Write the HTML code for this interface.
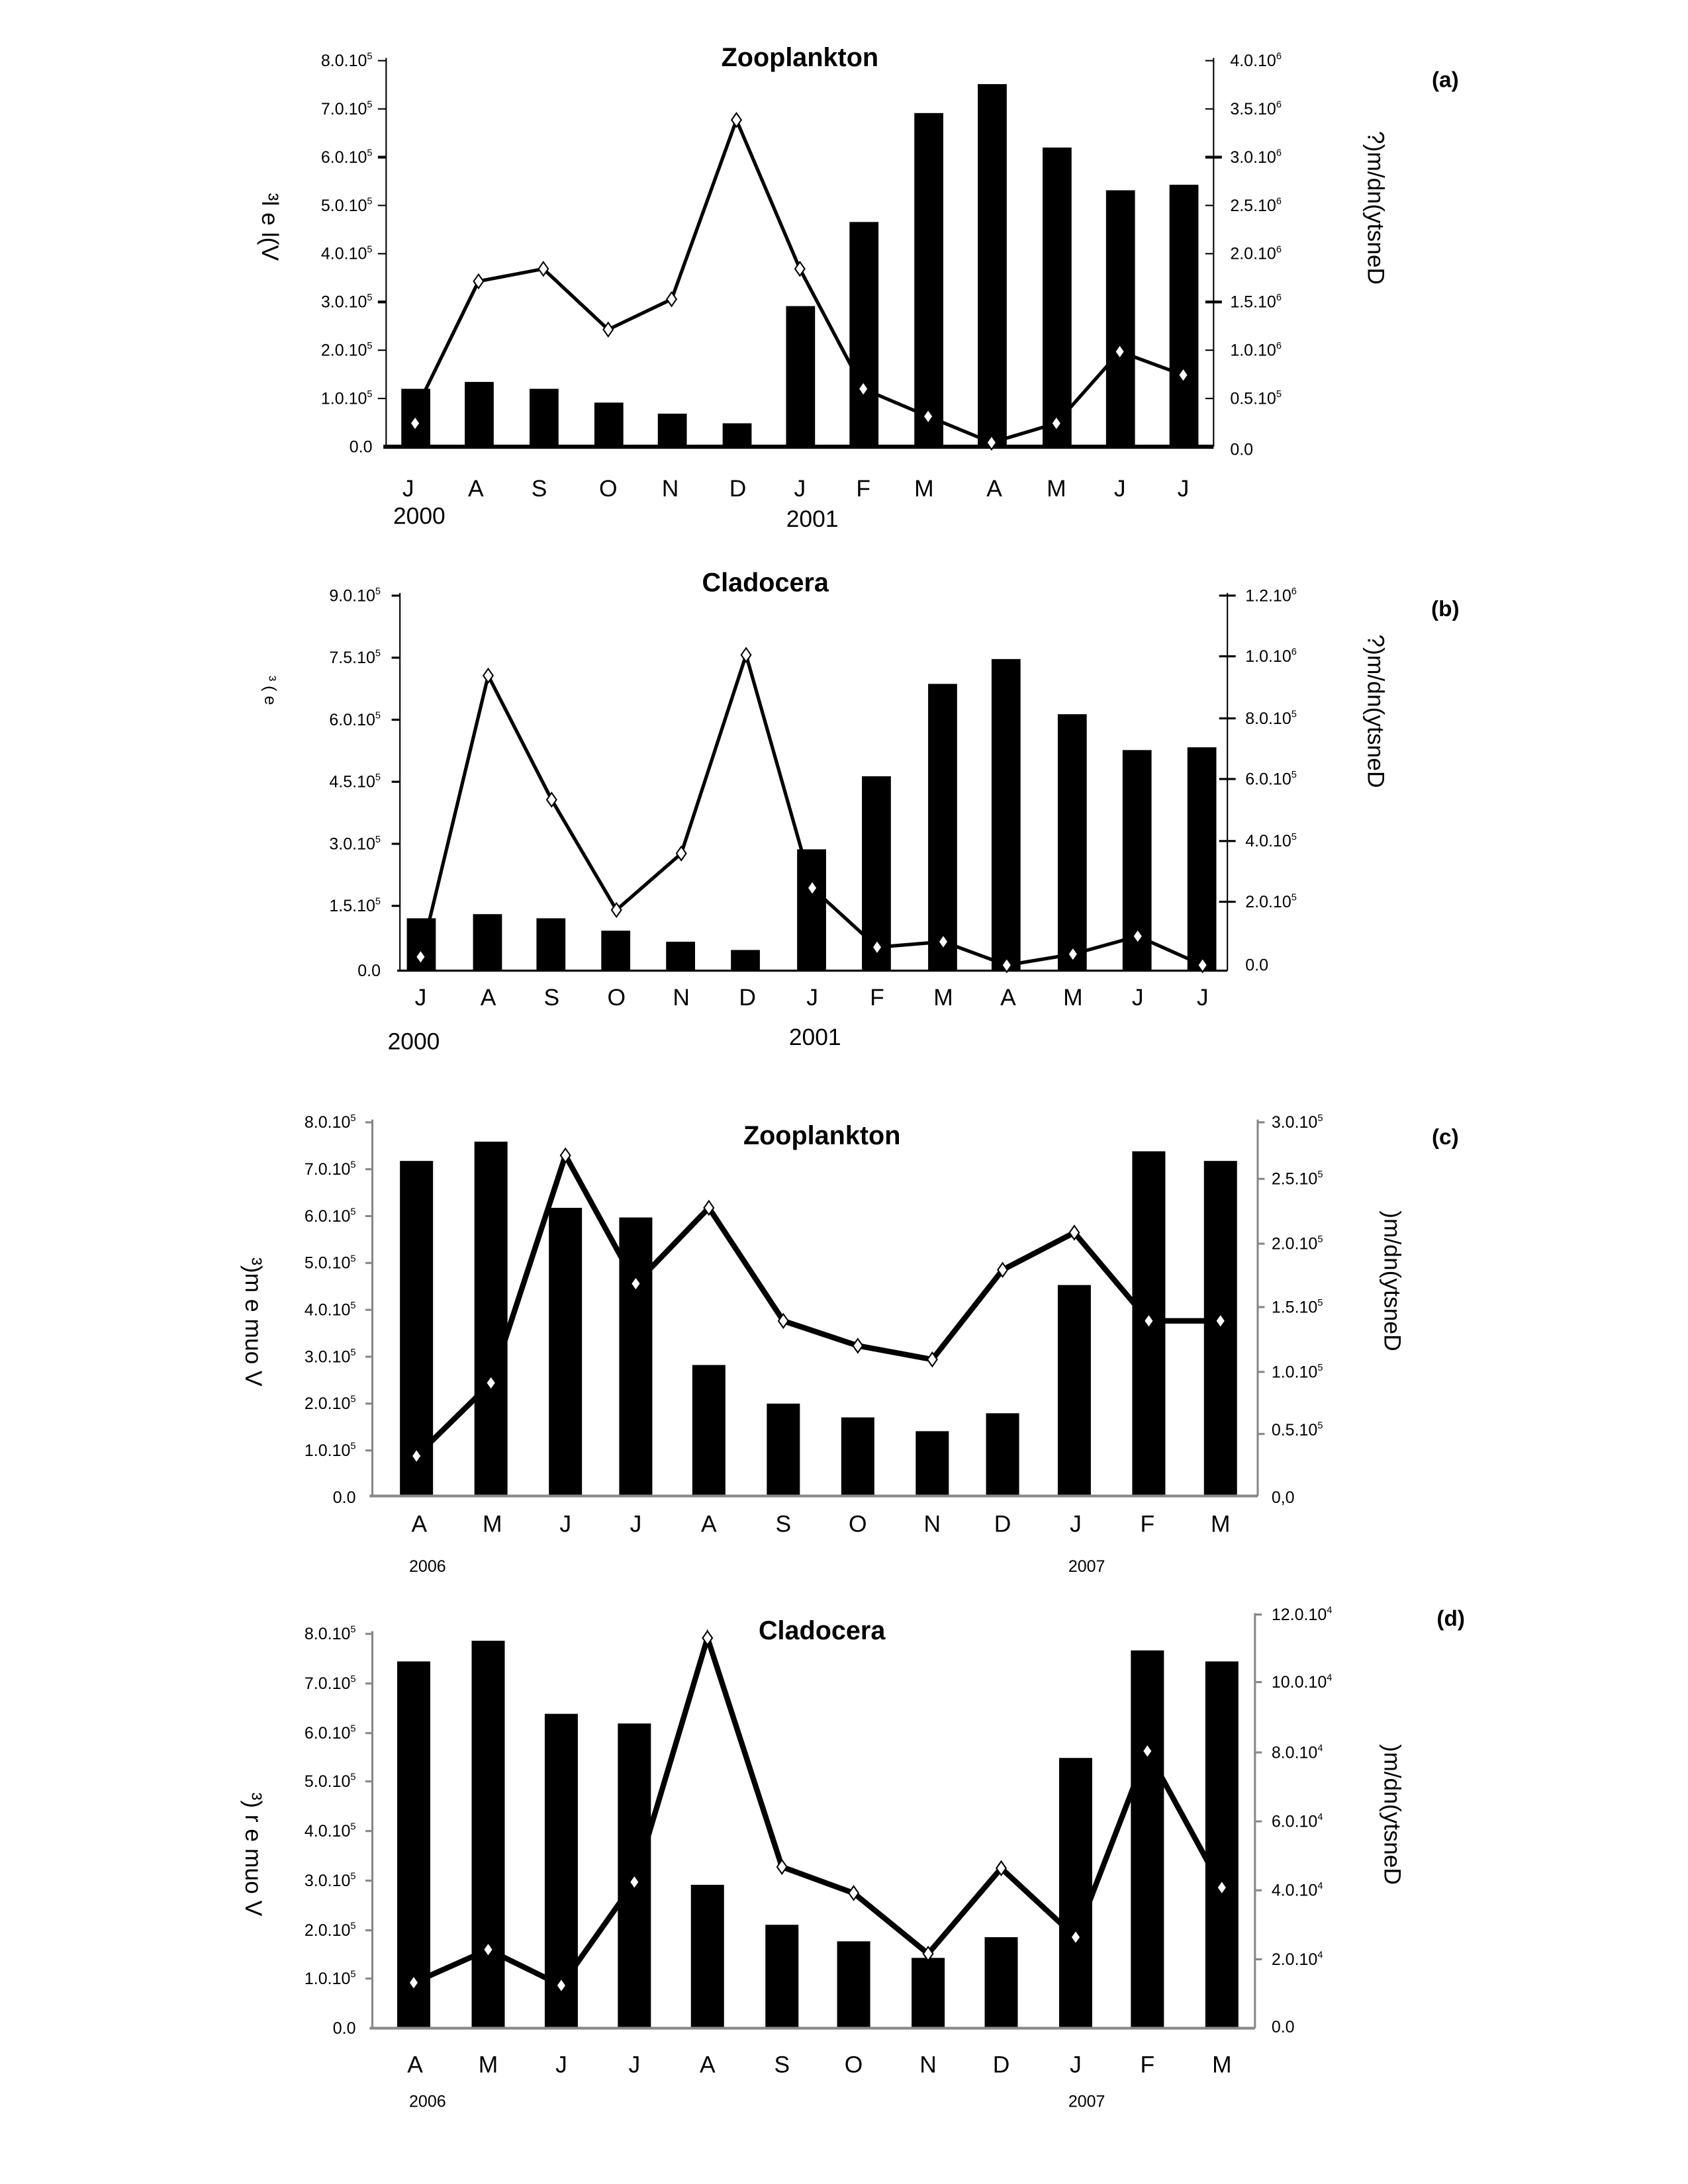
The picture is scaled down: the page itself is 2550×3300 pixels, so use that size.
<!DOCTYPE html>
<html><head><meta charset="utf-8"><style>
html,body{margin:0;padding:0;background:#fff}
svg{display:block}
text{font-family:"Liberation Sans","DejaVu Sans",sans-serif;fill:#000}
.t{font-size:12px;font-stretch:condensed}
.m{font-size:17px}
.y{font-size:15px}
.ti{font-size:19px;font-weight:bold}
.p{font-size:16px;font-weight:bold}
</style></head><body>
<svg width="2550" height="3300" viewBox="0 0 1224 1584" xmlns="http://www.w3.org/2000/svg">
<defs><path id="dm" d="M0,-5 L3.5,0 L0,5 L-3.5,0Z" fill="#fff" stroke="#000" stroke-width="1"/></defs>

<!-- Panel a -->
<g>
<text x="580" y="48" class="ti" text-anchor="middle">Zooplankton</text>
<text x="1048" y="63" class="p" text-anchor="middle">(a)</text>
<line x1="280" y1="42" x2="280" y2="324" stroke="#000" stroke-width="1"/>
<line x1="880" y1="42" x2="880" y2="324" stroke="#000" stroke-width="1"/>
<g stroke="#000" stroke-width="1">
<line x1="274" y1="44" x2="280" y2="44"/><line x1="274" y1="79" x2="280" y2="79"/><line x1="274" y1="114" x2="280" y2="114" stroke-width="2"/><line x1="274" y1="149" x2="280" y2="149"/><line x1="274" y1="184" x2="280" y2="184"/><line x1="274" y1="219" x2="280" y2="219" stroke-width="2"/><line x1="274" y1="254" x2="280" y2="254"/><line x1="274" y1="289" x2="280" y2="289"/>
<line x1="874" y1="44" x2="880" y2="44"/><line x1="874" y1="79" x2="880" y2="79"/><line x1="874" y1="114" x2="886" y2="114" stroke-width="2"/><line x1="874" y1="149" x2="880" y2="149"/><line x1="874" y1="184" x2="880" y2="184"/><line x1="874" y1="219" x2="886" y2="219" stroke-width="2"/><line x1="874" y1="254" x2="880" y2="254"/><line x1="874" y1="289" x2="880" y2="289"/>
</g>
<g class="t" text-anchor="end">
<text x="270" y="48">8.0.10<tspan font-size="7" dy="-5">5</tspan></text>
<text x="270" y="83">7.0.10<tspan font-size="7" dy="-5">5</tspan></text>
<text x="270" y="118">6.0.10<tspan font-size="7" dy="-5">5</tspan></text>
<text x="270" y="153">5.0.10<tspan font-size="7" dy="-5">5</tspan></text>
<text x="270" y="188">4.0.10<tspan font-size="7" dy="-5">5</tspan></text>
<text x="270" y="223">3.0.10<tspan font-size="7" dy="-5">5</tspan></text>
<text x="270" y="258">2.0.10<tspan font-size="7" dy="-5">5</tspan></text>
<text x="270" y="293">1.0.10<tspan font-size="7" dy="-5">5</tspan></text>
<text x="270" y="328">0.0</text>
</g>
<g class="t">
<text x="892" y="48">4.0.10<tspan font-size="7" dy="-5">6</tspan></text>
<text x="892" y="83">3.5.10<tspan font-size="7" dy="-5">6</tspan></text>
<text x="892" y="118">3.0.10<tspan font-size="7" dy="-5">6</tspan></text>
<text x="892" y="153">2.5.10<tspan font-size="7" dy="-5">6</tspan></text>
<text x="892" y="188">2.0.10<tspan font-size="7" dy="-5">6</tspan></text>
<text x="892" y="223">1.5.10<tspan font-size="7" dy="-5">6</tspan></text>
<text x="892" y="258">1.0.10<tspan font-size="7" dy="-5">6</tspan></text>
<text x="892" y="293">0.5.10<tspan font-size="7" dy="-5">5</tspan></text>
<text x="892" y="330">0.0</text>
</g>
<text transform="translate(992,95) rotate(90)" class="m">?)m/dn(ytsneD</text>
<text transform="translate(190,140) rotate(90)" class="m">³l e l(V</text>
<g fill="#000">
<rect x="291" y="282" width="21" height="42"/><rect x="337" y="277" width="21" height="47"/><rect x="384" y="282" width="21" height="42"/><rect x="431" y="292" width="21" height="32"/><rect x="477" y="300" width="21" height="24"/><rect x="524" y="307" width="21" height="17"/><rect x="570" y="222" width="21" height="102"/><rect x="616" y="161" width="21" height="163"/><rect x="663" y="82" width="21" height="242"/><rect x="709" y="61" width="21" height="263"/><rect x="756" y="107" width="21" height="217"/><rect x="802" y="138" width="21" height="186"/><rect x="848" y="134" width="21" height="190"/>
</g>
<line x1="278" y1="324" x2="880" y2="324" stroke="#000" stroke-width="3"/>
<polyline fill="none" stroke="#000" stroke-width="2.5" points="305,290 347,204 394,195 441,239 487,217 534,87 580,195 626,282 673,302 719,321 766,307 812,255 858,272"/>
<g><use href="#dm" x="301" y="307"/><use href="#dm" x="347" y="204"/><use href="#dm" x="394" y="195"/><use href="#dm" x="441" y="239"/><use href="#dm" x="487" y="217"/><use href="#dm" x="534" y="87"/><use href="#dm" x="580" y="195"/><use href="#dm" x="626" y="282"/><use href="#dm" x="673" y="302"/><use href="#dm" x="719" y="321"/><use href="#dm" x="766" y="307"/><use href="#dm" x="812" y="255"/><use href="#dm" x="858" y="272"/></g>
<g class="m" text-anchor="middle">
<text x="296" y="360">J</text><text x="345" y="360">A</text><text x="391" y="360">S</text><text x="441" y="360">O</text><text x="486" y="360">N</text><text x="535" y="360">D</text><text x="580" y="360">J</text><text x="626" y="360">F</text><text x="670" y="360">M</text><text x="721" y="360">A</text><text x="766" y="360">M</text><text x="812" y="360">J</text><text x="858" y="360">J</text>
<text x="304" y="380">2000</text><text x="589" y="382">2001</text>
</g>
</g>

<!-- Panel b -->
<g>
<text x="555" y="429" class="ti" text-anchor="middle">Cladocera</text>
<text x="1048" y="447" class="p" text-anchor="middle">(b)</text>
<line x1="290" y1="430" x2="290" y2="704" stroke="#000" stroke-width="1"/>
<line x1="890" y1="430" x2="890" y2="704" stroke="#000" stroke-width="1"/>
<g stroke="#000" stroke-width="1.5">
<line x1="284" y1="432" x2="290" y2="432"/><line x1="284" y1="477" x2="290" y2="477"/><line x1="284" y1="522" x2="290" y2="522"/><line x1="284" y1="567" x2="290" y2="567"/><line x1="284" y1="612" x2="290" y2="612"/><line x1="284" y1="657" x2="290" y2="657"/>
<line x1="884" y1="432" x2="896" y2="432"/><line x1="884" y1="476" x2="896" y2="476"/><line x1="884" y1="521" x2="896" y2="521"/><line x1="884" y1="565" x2="896" y2="565"/><line x1="884" y1="610" x2="896" y2="610"/><line x1="884" y1="654" x2="896" y2="654"/>
</g>
<g class="t" text-anchor="end">
<text x="276" y="436">9.0.10<tspan font-size="7" dy="-5">5</tspan></text>
<text x="276" y="481">7.5.10<tspan font-size="7" dy="-5">5</tspan></text>
<text x="276" y="526">6.0.10<tspan font-size="7" dy="-5">5</tspan></text>
<text x="276" y="571">4.5.10<tspan font-size="7" dy="-5">5</tspan></text>
<text x="276" y="616">3.0.10<tspan font-size="7" dy="-5">5</tspan></text>
<text x="276" y="661">1.5.10<tspan font-size="7" dy="-5">5</tspan></text>
<text x="276" y="708">0.0</text>
</g>
<g class="t">
<text x="903" y="436">1.2.10<tspan font-size="7" dy="-5">6</tspan></text>
<text x="903" y="480">1.0.10<tspan font-size="7" dy="-5">6</tspan></text>
<text x="903" y="525">8.0.10<tspan font-size="7" dy="-5">5</tspan></text>
<text x="903" y="569">6.0.10<tspan font-size="7" dy="-5">5</tspan></text>
<text x="903" y="614">4.0.10<tspan font-size="7" dy="-5">5</tspan></text>
<text x="903" y="658">2.0.10<tspan font-size="7" dy="-5">5</tspan></text>
<text x="903" y="704">0.0</text>
</g>
<text transform="translate(992,460) rotate(90)" class="m">?)m/dn(ytsneD</text>
<text transform="translate(192,490) rotate(90)" class="t">³ ( e</text>
<g fill="#000">
<rect x="295" y="666" width="21" height="38"/><rect x="343" y="663" width="21" height="41"/><rect x="389" y="666" width="21" height="38"/><rect x="436" y="675" width="21" height="29"/><rect x="483" y="683" width="21" height="21"/><rect x="530" y="689" width="21" height="15"/><rect x="578" y="616" width="21" height="88"/><rect x="625" y="563" width="21" height="141"/><rect x="673" y="496" width="21" height="208"/><rect x="719" y="478" width="21" height="226"/><rect x="767" y="518" width="21" height="186"/><rect x="814" y="544" width="21" height="160"/><rect x="861" y="542" width="21" height="162"/>
</g>
<line x1="288" y1="704" x2="890" y2="704" stroke="#000" stroke-width="1.5"/>
<polyline fill="none" stroke="#000" stroke-width="2.5" points="305,694 354,490 400,580 447,660 494,619 541,475 589,644 636,687 684,683 730,700 778,692 825,679 872,700"/>
<g><use href="#dm" x="305" y="694"/><use href="#dm" x="354" y="490"/><use href="#dm" x="400" y="580"/><use href="#dm" x="447" y="660"/><use href="#dm" x="494" y="619"/><use href="#dm" x="541" y="475"/><use href="#dm" x="589" y="644"/><use href="#dm" x="636" y="687"/><use href="#dm" x="684" y="683"/><use href="#dm" x="730" y="700"/><use href="#dm" x="778" y="692"/><use href="#dm" x="825" y="679"/><use href="#dm" x="872" y="700"/></g>
<g class="m" text-anchor="middle">
<text x="305" y="729">J</text><text x="354" y="729">A</text><text x="400" y="729">S</text><text x="447" y="729">O</text><text x="494" y="729">N</text><text x="542" y="729">D</text><text x="589" y="729">J</text><text x="636" y="729">F</text><text x="684" y="729">M</text><text x="731" y="729">A</text><text x="778" y="729">M</text><text x="825" y="729">J</text><text x="872" y="729">J</text>
<text x="300" y="761">2000</text><text x="591" y="758">2001</text>
</g>
</g>

<!-- Panel c -->
<g>
<text x="596" y="830" class="ti" text-anchor="middle">Zooplankton</text>
<text x="1048" y="830" class="p" text-anchor="middle">(c)</text>
<line x1="270" y1="812" x2="270" y2="1085" stroke="#888" stroke-width="1.5"/>
<line x1="912" y1="812" x2="912" y2="1085" stroke="#888" stroke-width="1.5"/>
<g stroke="#888" stroke-width="1.5">
<line x1="265" y1="814" x2="270" y2="814"/><line x1="265" y1="848" x2="270" y2="848"/><line x1="265" y1="882" x2="270" y2="882"/><line x1="265" y1="916" x2="270" y2="916"/><line x1="265" y1="950" x2="270" y2="950"/><line x1="265" y1="984" x2="270" y2="984"/><line x1="265" y1="1018" x2="270" y2="1018"/><line x1="265" y1="1052" x2="270" y2="1052"/>
<line x1="912" y1="814" x2="917" y2="814"/><line x1="912" y1="855" x2="917" y2="855"/><line x1="912" y1="902" x2="917" y2="902"/><line x1="912" y1="948" x2="917" y2="948"/><line x1="912" y1="995" x2="917" y2="995"/><line x1="912" y1="1040" x2="917" y2="1040"/>
</g>
<g class="t" text-anchor="end">
<text x="258" y="818">8.0.10<tspan font-size="7" dy="-5">5</tspan></text>
<text x="258" y="852">7.0.10<tspan font-size="7" dy="-5">5</tspan></text>
<text x="258" y="886">6.0.10<tspan font-size="7" dy="-5">5</tspan></text>
<text x="258" y="920">5.0.10<tspan font-size="7" dy="-5">5</tspan></text>
<text x="258" y="954">4.0.10<tspan font-size="7" dy="-5">5</tspan></text>
<text x="258" y="988">3.0.10<tspan font-size="7" dy="-5">5</tspan></text>
<text x="258" y="1022">2.0.10<tspan font-size="7" dy="-5">5</tspan></text>
<text x="258" y="1056">1.0.10<tspan font-size="7" dy="-5">5</tspan></text>
<text x="258" y="1090">0.0</text>
</g>
<g class="t">
<text x="922" y="818">3.0.10<tspan font-size="7" dy="-5">5</tspan></text>
<text x="922" y="859">2.5.10<tspan font-size="7" dy="-5">5</tspan></text>
<text x="922" y="906">2.0.10<tspan font-size="7" dy="-5">5</tspan></text>
<text x="922" y="952">1.5.10<tspan font-size="7" dy="-5">5</tspan></text>
<text x="922" y="999">1.0.10<tspan font-size="7" dy="-5">5</tspan></text>
<text x="922" y="1041">0.5.10<tspan font-size="7" dy="-5">5</tspan></text>
<text x="922" y="1090">0,0</text>
</g>
<text transform="translate(1004,878) rotate(90)" class="m">)m/dn(ytsneD</text>
<text transform="translate(178,912) rotate(90)" class="m">³)m e muo V</text>
<g fill="#000">
<rect x="290" y="842" width="24" height="243"/><rect x="344" y="828" width="24" height="257"/><rect x="398" y="876" width="24" height="209"/><rect x="449" y="883" width="24" height="202"/><rect x="502" y="990" width="24" height="95"/><rect x="556" y="1018" width="24" height="67"/><rect x="610" y="1028" width="24" height="57"/><rect x="664" y="1038" width="24" height="47"/><rect x="715" y="1025" width="24" height="60"/><rect x="767" y="932" width="24" height="153"/><rect x="821" y="835" width="24" height="250"/><rect x="873" y="842" width="24" height="243"/>
</g>
<line x1="268" y1="1085" x2="912" y2="1085" stroke="#888" stroke-width="2"/>
<polyline fill="none" stroke="#000" stroke-width="4" points="302,1056 356,1003 410,838 461,931 514,876 568,958 622,976 676,986 727,921 779,894 833,958 885,958"/>
<g><use href="#dm" x="302" y="1056"/><use href="#dm" x="356" y="1003"/><use href="#dm" x="410" y="838"/><use href="#dm" x="461" y="931"/><use href="#dm" x="514" y="876"/><use href="#dm" x="568" y="958"/><use href="#dm" x="622" y="976"/><use href="#dm" x="676" y="986"/><use href="#dm" x="727" y="921"/><use href="#dm" x="779" y="894"/><use href="#dm" x="833" y="958"/><use href="#dm" x="885" y="958"/></g>
<g class="m" text-anchor="middle">
<text x="304" y="1111">A</text><text x="357" y="1111">M</text><text x="410" y="1111">J</text><text x="461" y="1111">J</text><text x="514" y="1111">A</text><text x="568" y="1111">S</text><text x="622" y="1111">O</text><text x="676" y="1111">N</text><text x="727" y="1111">D</text><text x="780" y="1111">J</text><text x="832" y="1111">F</text><text x="885" y="1111">M</text>
</g>
<text x="310" y="1140" class="t" text-anchor="middle">2006</text><text x="788" y="1140" class="t" text-anchor="middle">2007</text>
</g>

<!-- Panel d -->
<g>
<text x="596" y="1189" class="ti" text-anchor="middle">Cladocera</text>
<text x="1052" y="1179" class="p" text-anchor="middle">(d)</text>
<line x1="270" y1="1183" x2="270" y2="1471" stroke="#888" stroke-width="1.5"/>
<line x1="910" y1="1170" x2="910" y2="1471" stroke="#888" stroke-width="1.5"/>
<g stroke="#888" stroke-width="1.5">
<line x1="265" y1="1185" x2="270" y2="1185"/><line x1="265" y1="1221" x2="270" y2="1221"/><line x1="265" y1="1257" x2="270" y2="1257"/><line x1="265" y1="1292" x2="270" y2="1292"/><line x1="265" y1="1328" x2="270" y2="1328"/><line x1="265" y1="1364" x2="270" y2="1364"/><line x1="265" y1="1400" x2="270" y2="1400"/><line x1="265" y1="1435" x2="270" y2="1435"/>
<line x1="910" y1="1171" x2="915" y2="1171"/><line x1="910" y1="1220" x2="915" y2="1220"/><line x1="910" y1="1271" x2="915" y2="1271"/><line x1="910" y1="1321" x2="915" y2="1321"/><line x1="910" y1="1371" x2="915" y2="1371"/><line x1="910" y1="1421" x2="915" y2="1421"/>
</g>
<g class="t" text-anchor="end">
<text x="258" y="1189">8.0.10<tspan font-size="7" dy="-5">5</tspan></text>
<text x="258" y="1225">7.0.10<tspan font-size="7" dy="-5">5</tspan></text>
<text x="258" y="1261">6.0.10<tspan font-size="7" dy="-5">5</tspan></text>
<text x="258" y="1296">5.0.10<tspan font-size="7" dy="-5">5</tspan></text>
<text x="258" y="1332">4.0.10<tspan font-size="7" dy="-5">5</tspan></text>
<text x="258" y="1368">3.0.10<tspan font-size="7" dy="-5">5</tspan></text>
<text x="258" y="1404">2.0.10<tspan font-size="7" dy="-5">5</tspan></text>
<text x="258" y="1439">1.0.10<tspan font-size="7" dy="-5">5</tspan></text>
<text x="258" y="1475">0.0</text>
</g>
<g class="t">
<text x="922" y="1175">12.0.10<tspan font-size="7" dy="-5">4</tspan></text>
<text x="922" y="1224">10.0.10<tspan font-size="7" dy="-5">4</tspan></text>
<text x="922" y="1275">8.0.10<tspan font-size="7" dy="-5">4</tspan></text>
<text x="922" y="1325">6.0.10<tspan font-size="7" dy="-5">4</tspan></text>
<text x="922" y="1375">4.0.10<tspan font-size="7" dy="-5">4</tspan></text>
<text x="922" y="1425">2.0.10<tspan font-size="7" dy="-5">4</tspan></text>
<text x="922" y="1474">0.0</text>
</g>
<text transform="translate(1004,1265) rotate(90)" class="m">)m/dn(ytsneD</text>
<text transform="translate(178,1300) rotate(90)" class="m">³) r e muo V</text>
<g fill="#000">
<rect x="288" y="1205" width="24" height="266"/><rect x="342" y="1190" width="24" height="281"/><rect x="395" y="1243" width="24" height="228"/><rect x="448" y="1250" width="24" height="221"/><rect x="501" y="1367" width="24" height="104"/><rect x="555" y="1396" width="24" height="75"/><rect x="607" y="1408" width="24" height="63"/><rect x="661" y="1420" width="24" height="51"/><rect x="714" y="1405" width="24" height="66"/><rect x="768" y="1275" width="24" height="196"/><rect x="820" y="1197" width="24" height="274"/><rect x="874" y="1205" width="24" height="266"/>
</g>
<line x1="268" y1="1471" x2="910" y2="1471" stroke="#888" stroke-width="2"/>
<polyline fill="none" stroke="#000" stroke-width="4" points="300,1438 354,1414 407,1440 460,1365 513,1188 567,1354 619,1373 673,1417 726,1355 780,1405 832,1270 886,1369"/>
<g><use href="#dm" x="300" y="1438"/><use href="#dm" x="354" y="1414"/><use href="#dm" x="407" y="1440"/><use href="#dm" x="460" y="1365"/><use href="#dm" x="513" y="1188"/><use href="#dm" x="567" y="1354"/><use href="#dm" x="619" y="1373"/><use href="#dm" x="673" y="1417"/><use href="#dm" x="726" y="1355"/><use href="#dm" x="780" y="1405"/><use href="#dm" x="832" y="1270"/><use href="#dm" x="886" y="1369"/></g>
<g class="m" text-anchor="middle">
<text x="301" y="1503">A</text><text x="354" y="1503">M</text><text x="407" y="1503">J</text><text x="460" y="1503">J</text><text x="513" y="1503">A</text><text x="567" y="1503">S</text><text x="619" y="1503">O</text><text x="673" y="1503">N</text><text x="726" y="1503">D</text><text x="780" y="1503">J</text><text x="832" y="1503">F</text><text x="886" y="1503">M</text>
</g>
<text x="310" y="1528" class="t" text-anchor="middle">2006</text><text x="788" y="1528" class="t" text-anchor="middle">2007</text>
</g>
</svg>
</body></html>
